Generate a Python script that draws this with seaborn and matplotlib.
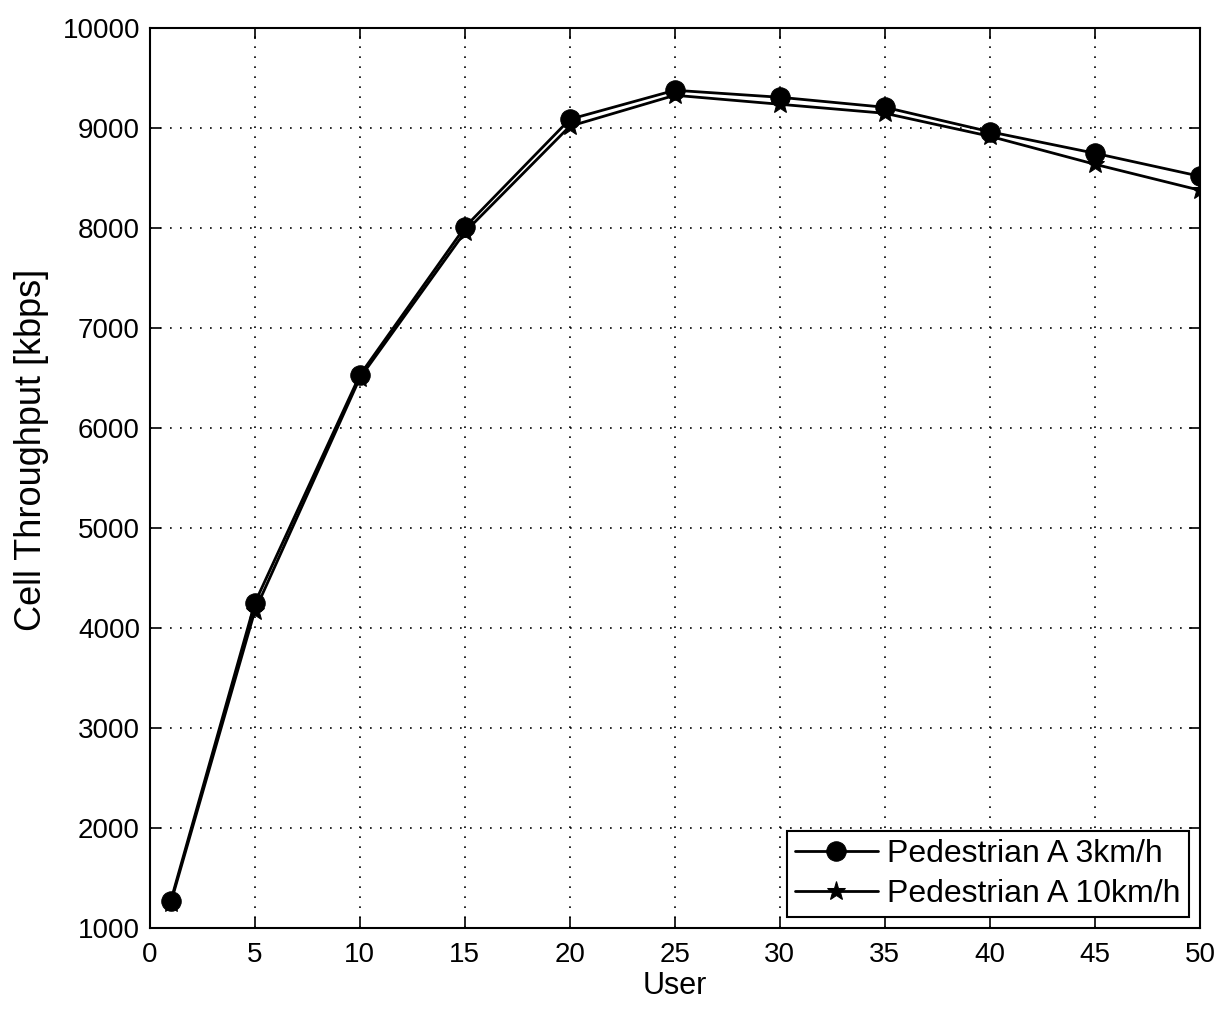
import matplotlib
matplotlib.use("Agg")
import matplotlib.pyplot as plt
import seaborn as sns
import pandas as pd

users = [1, 5, 10, 15, 20, 25, 30, 35, 40, 45, 50]
ped_3kmh = [1270, 4250, 6530, 8010, 9090, 9380, 9310, 9210, 8965, 8750, 8520]
ped_10kmh = [1250, 4170, 6500, 7960, 9020, 9330, 9240, 9150, 8920, 8640, 8380]
series_names = ["Pedestrian A 3km/h", "Pedestrian A 10km/h"]
x_ticks = [0, 5, 10, 15, 20, 25, 30, 35, 40, 45, 50]
y_ticks = [1000, 2000, 3000, 4000, 5000, 6000, 7000, 8000, 9000, 10000]

df = pd.concat([
    pd.DataFrame({"User": users, "val": ped_3kmh, "series": series_names[0]}),
    pd.DataFrame({"User": users, "val": ped_10kmh, "series": series_names[1]}),
])

sns.set_theme(style="white")
plt.rcParams['font.family'] = ['Liberation Sans', 'DejaVu Sans']
plt.rcParams['text.color'] = 'black'
plt.rcParams['axes.labelcolor'] = 'black'

fig = plt.figure(figsize=(12.17, 10.10), dpi=100)
ax = fig.add_axes([0.123, 0.081, 0.863, 0.891])

sns.lineplot(data=df, x="User", y="val", hue="series", style="series",
             palette={series_names[0]: "black", series_names[1]: "black"},
             markers={series_names[0]: "o", series_names[1]: "*"},
             dashes=False, ax=ax, linewidth=2.0, markersize=14,
             markeredgecolor="black", legend=True)

ax.set_xlim(0, 50)
ax.set_ylim(1000, 10000)
ax.set_xticks(x_ticks)
ax.set_yticks(y_ticks)
ax.grid(True, linestyle=(0, (1, 5)), color="black", linewidth=1.2)
ax.tick_params(direction="in", length=8, width=1.2, labelsize=20, colors="black",
               top=True, right=True, bottom=True, left=True)
ax.tick_params(axis="x", pad=10)
ax.tick_params(axis="y", pad=7)
for s in ax.spines.values():
    s.set_color("black")
    s.set_linewidth(1.5)
ax.set_xlabel("User", fontsize=22, color="black", labelpad=2)
ax.set_ylabel("Cell Throughput [kbps]", fontsize=26, color="black")
ax.yaxis.set_label_coords(-0.096, 0.531)

leg = ax.legend(loc="lower right", fontsize=23, frameon=True, fancybox=False,
                edgecolor="black", framealpha=1, borderaxespad=0.35,
                handlelength=2.6, handletextpad=0.3, borderpad=0.25,
                labelspacing=0.3)
leg.get_frame().set_linewidth(1.5)
for t in leg.get_texts():
    t.set_color("black")

fig.savefig("out.png", dpi=100)
